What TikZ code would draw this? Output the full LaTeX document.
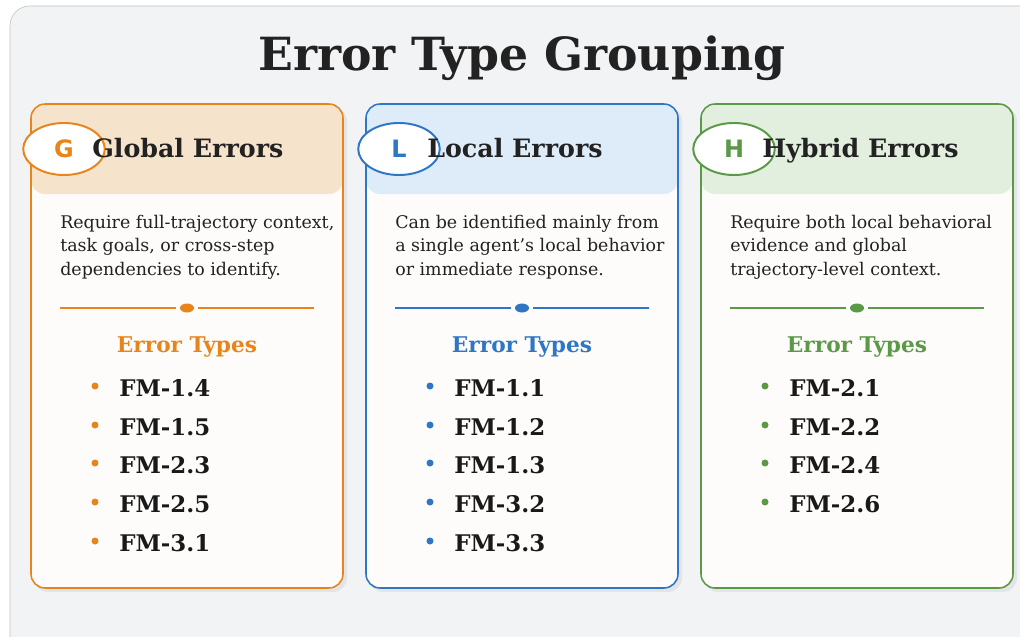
\documentclass[tikz,border=0pt]{standalone}
\usepackage{fontspec}
\setmainfont{DejaVu Serif}
\setsansfont{DejaVu Sans}
\usepackage{tikz}
\usetikzlibrary{shapes.geometric,positioning}
\definecolor{globalcolor}{RGB}{232,133,26}
\definecolor{localcolor}{RGB}{47,118,197}
\definecolor{hybridcolor}{RGB}{90,154,70}
\definecolor{globalfill}{RGB}{246,227,204}
\definecolor{localfill}{RGB}{222,235,249}
\definecolor{hybridfill}{RGB}{226,238,222}
\definecolor{panelbg}{RGB}{242,243,245}
\definecolor{panelline}{RGB}{192,192,192}
\definecolor{cardbg}{RGB}{253,252,250}
\definecolor{cardshade}{RGB}{226,228,231}
\definecolor{inkcolor}{RGB}{34,34,34}

\begin{document}
\begin{tikzpicture}[x=0.025cm, y=-0.025cm,
    card/.style={line width=1.1pt, rounded corners=10pt},
    badge/.style={ellipse, draw=#1, text=#1, line width=1.4pt, fill=white, minimum width=58pt, minimum height=37pt, inner sep=0pt, font=\sffamily\bfseries\fontsize{17}{17}\selectfont},
    cardtitle/.style={anchor=base west, inner sep=0pt, text=inkcolor, font=\bfseries\fontsize{18}{20}\selectfont},
    desc/.style={anchor=base west, align=left, inner sep=0pt, text=inkcolor, font=\fontsize{12.4}{16.7}\selectfont},
    typeshead/.style={anchor=base, inner sep=0pt, font=\bfseries\fontsize{15.4}{16}\selectfont},
    item/.style={anchor=base west, inner sep=0pt, text=black!90, font=\bfseries\fontsize{16.3}{18}\selectfont}]
        \useasboundingbox (0,0) rectangle (1020,637);
        \clip (0,0) rectangle (1020,637);
        \draw[panelline, fill=panelbg, rounded corners=14pt] (10,6) rectangle (1040,660);

        \node[anchor=base, text=inkcolor, font=\bfseries\fontsize{32.5}{34}\selectfont] (title) at (522,71) {Error Type Grouping};

        % Global errors
        \fill[cardshade, rounded corners=10pt] (34,107) rectangle (347,592);
        \fill[cardbg, rounded corners=10pt] (31,104) rectangle (343,588);
        \fill[globalfill, rounded corners=10pt] (31,104) rectangle (343,194);
        \draw[card, globalcolor] (31,104) rectangle (343,588);
        \node[badge=globalcolor] (gbadge) at (64,149) {G};
        \node[cardtitle] (gtitle) at (92,157) {Global Errors};
        \node[desc] (gdesc) at (60,275) {Require full-trajectory context,\\ task goals, or cross-step\\ dependencies to identify.};
        \draw[globalcolor, line width=1pt] (60,308) -- (176,308) (198,308) -- (314,308);
        \fill[globalcolor] (187,308) ellipse [x radius=7, y radius=4.5];
        \node[typeshead, text=globalcolor] (gtypes) at (187,352) {Error Types};
        \fill[globalcolor] (95,386) circle [radius=3.5] (95,425) circle [radius=3.5] (95,463) circle [radius=3.5] (95,502) circle [radius=3.5] (95,541) circle [radius=3.5];
        \node[item] (g1) at (119,396) {FM-1.4};
        \node[item] (g2) at (119,435) {FM-1.5};
        \node[item] (g3) at (119,473) {FM-2.3};
        \node[item] (g4) at (119,512) {FM-2.5};
        \node[item] (g5) at (119,551) {FM-3.1};

        % Local errors
        \fill[cardshade, rounded corners=10pt] (369,107) rectangle (682,592);
        \fill[cardbg, rounded corners=10pt] (366,104) rectangle (678,588);
        \fill[localfill, rounded corners=10pt] (366,104) rectangle (678,194);
        \draw[card, localcolor] (366,104) rectangle (678,588);
        \node[badge=localcolor] (lbadge) at (399,149) {L};
        \node[cardtitle] (ltitle) at (427,157) {Local Errors};
        \node[desc] (ldesc) at (395,275) {Can be identified mainly from\\ a single agent's local behavior\\ or immediate response.};
        \draw[localcolor, line width=1pt] (395,308) -- (511,308) (533,308) -- (649,308);
        \fill[localcolor] (522,308) ellipse [x radius=7, y radius=4.5];
        \node[typeshead, text=localcolor] (ltypes) at (522,352) {Error Types};
        \fill[localcolor] (430,386) circle [radius=3.5] (430,425) circle [radius=3.5] (430,463) circle [radius=3.5] (430,502) circle [radius=3.5] (430,541) circle [radius=3.5];
        \node[item] (l1) at (454,396) {FM-1.1};
        \node[item] (l2) at (454,435) {FM-1.2};
        \node[item] (l3) at (454,473) {FM-1.3};
        \node[item] (l4) at (454,512) {FM-3.2};
        \node[item] (l5) at (454,551) {FM-3.3};

        % Hybrid errors
        \fill[cardshade, rounded corners=10pt] (704,107) rectangle (1017,592);
        \fill[cardbg, rounded corners=10pt] (701,104) rectangle (1013,588);
        \fill[hybridfill, rounded corners=10pt] (701,104) rectangle (1013,194);
        \draw[card, hybridcolor] (701,104) rectangle (1013,588);
        \node[badge=hybridcolor] (hbadge) at (734,149) {H};
        \node[cardtitle] (htitle) at (762,157) {Hybrid Errors};
        \node[desc] (hdesc) at (730,275) {Require both local behavioral\\ evidence and global\\ trajectory-level context.};
        \draw[hybridcolor, line width=1pt] (730,308) -- (846,308) (868,308) -- (984,308);
        \fill[hybridcolor] (857,308) ellipse [x radius=7, y radius=4.5];
        \node[typeshead, text=hybridcolor] (htypes) at (857,352) {Error Types};
        \fill[hybridcolor] (765,386) circle [radius=3.5] (765,425) circle [radius=3.5] (765,463) circle [radius=3.5] (765,502) circle [radius=3.5];
        \node[item] (h1) at (789,396) {FM-2.1};
        \node[item] (h2) at (789,435) {FM-2.2};
        \node[item] (h3) at (789,473) {FM-2.4};
        \node[item] (h4) at (789,512) {FM-2.6};
\end{tikzpicture}
\end{document}
